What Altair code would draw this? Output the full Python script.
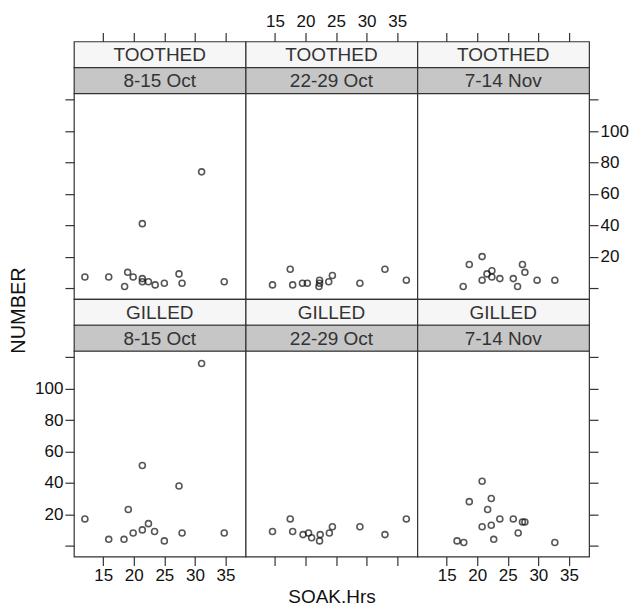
import altair as alt
import pandas as pd

# ---- data ----
gear_types = ["TOOTHED", "GILLED"]
periods = ["8-15 Oct", "22-29 Oct", "7-14 Nov"]

toothed_oct8_soak = [12.0, 15.9, 19.0, 18.5, 19.9, 21.4, 21.4, 21.4, 22.4, 23.5, 25.0, 27.4, 27.9, 31.1, 34.8]
toothed_oct8_num = [7, 7, 10, 1, 7, 41, 6, 4, 4, 2, 3, 9, 3, 74, 4]

gilled_oct8_soak = [12.0, 15.9, 18.4, 19.1, 19.9, 21.4, 21.4, 22.4, 23.4, 25.0, 27.4, 27.9, 31.1, 34.8]
gilled_oct8_num = [17, 4, 4, 23, 8, 10, 51, 14, 9, 3, 38, 8, 116, 8]

toothed_oct22_soak = [14.6, 17.5, 17.9, 19.5, 20.3, 22.3, 22.3, 22.2, 23.8, 24.4, 28.9, 33.0, 36.5]
toothed_oct22_num = [2, 12, 2, 3, 3, 5, 3, 1, 4, 8, 3, 12, 5]

gilled_oct22_soak = [14.6, 17.5, 17.9, 19.6, 20.5, 21.0, 22.4, 22.3, 23.9, 24.4, 28.9, 33.0, 36.5]
gilled_oct22_num = [9, 17, 9, 7, 8, 5, 7, 3, 8, 12, 12, 7, 17]

toothed_nov7_soak = [17.7, 18.7, 20.8, 20.8, 21.6, 22.4, 22.4, 23.7, 25.9, 26.6, 27.4, 27.8, 29.8, 32.7]
toothed_nov7_num = [1, 15, 20, 5, 9, 11, 7, 6, 6, 1, 15, 10, 5, 5]

gilled_nov7_soak = [16.7, 17.8, 18.7, 20.8, 20.8, 21.7, 22.3, 22.3, 22.7, 23.7, 25.9, 26.7, 27.4, 27.8, 32.7]
gilled_nov7_num = [3, 2, 28, 41, 12, 23, 30, 13, 4, 17, 17, 8, 15, 15, 2]

x_ticks = [15, 20, 25, 30, 35]
y_ticks = [0, 20, 40, 60, 80, 100, 120]

panels = {
    (0, 0): (toothed_oct8_soak, toothed_oct8_num),
    (0, 1): (toothed_oct22_soak, toothed_oct22_num),
    (0, 2): (toothed_nov7_soak, toothed_nov7_num),
    (1, 0): (gilled_oct8_soak, gilled_oct8_num),
    (1, 1): (gilled_oct22_soak, gilled_oct22_num),
    (1, 2): (gilled_nov7_soak, gilled_nov7_num),
}

# ---- layout / style ----
W = 172
PH = 206
SH = 26
XDOM = [10.2, 38.3]
YDOM = [-7, 124]
INK = "#333333"
FONT = "Liberation Sans"
LAB = 17

ylabel_expr = "datum.value >= 20 && datum.value <= 100 ? datum.label : ''"


def strip(text, fill):
    df = pd.DataFrame({"t": [text]})
    return (
        alt.Chart(df)
        .mark_text(fontSize=19, font=FONT, fontWeight="normal", color="#333333",
                   baseline="middle", align="center")
        .encode(text="t:N", x=alt.value(W / 2), y=alt.value(SH / 2 + 1))
        .properties(width=W, height=SH,
                    view=alt.ViewBackground(fill=fill, stroke=INK, strokeWidth=1.2))
    )


def panel(row, col):
    soak, num = panels[(row, col)]
    df = pd.DataFrame({"soak": soak, "number": num})
    common = dict(values=x_ticks, tickSize=9, tickColor=INK, tickWidth=1.2,
                  domain=False, grid=False, labelFontSize=LAB, labelFont=FONT,
                  labelColor="#111111", labelPadding=2)
    if row == 0:
        xaxis = alt.Axis(orient="top", offset=2 * SH, labels=(col == 1), title=None, **common)
    else:
        if col == 1:
            xaxis = alt.Axis(orient="bottom", labels=False, title="SOAK.Hrs",
                             titleFontSize=19, titleFont=FONT, titleFontWeight="normal",
                             titleColor="#111111", titlePadding=21, **common)
        else:
            xaxis = alt.Axis(orient="bottom", title=None, **common)

    ycommon = dict(values=y_ticks, tickSize=9, tickColor=INK, tickWidth=1.2,
                   domain=False, grid=False, labelFontSize=LAB, labelFont=FONT,
                   labelColor="#111111", labelPadding=2, labelExpr=ylabel_expr)
    if col == 0:
        if row == 1:
            yaxis = alt.Axis(orient="left", labels=True, title="NUMBER",
                             titleFontSize=20, titleFont=FONT, titleFontWeight="normal",
                             titleColor="#111111", titleAngle=270, titleAlign="center",
                             titleBaseline="middle", titleX=-55, titleY=-41, **ycommon)
        else:
            yaxis = alt.Axis(orient="left", labels=False, title=None, **ycommon)
    elif col == 2:
        yaxis = alt.Axis(orient="right", labels=(row == 0), title=None, **ycommon)
    else:
        yaxis = None

    return (
        alt.Chart(df)
        .mark_point(shape="circle", filled=False, size=36, strokeWidth=1.6, color="#111111")
        .encode(
            x=alt.X("soak:Q", scale=alt.Scale(domain=XDOM, nice=False, zero=False), axis=xaxis),
            y=alt.Y("number:Q", scale=alt.Scale(domain=YDOM, nice=False, zero=False), axis=yaxis),
        )
        .properties(width=W, height=PH,
                    view=alt.ViewBackground(fill="white", stroke=INK, strokeWidth=1.2))
    )


cells = []
for row in range(2):
    cells += [strip(gear_types[row], "#f6f6f6") for _ in range(3)]
    cells += [strip(p, "#c6c6c6") for p in periods]
    cells += [panel(row, c) for c in range(3)]

chart = alt.concat(*cells, columns=3, spacing=0, bounds="flush").properties(
    padding={"left": 0, "top": 3, "right": 0, "bottom": 0}
).configure(font=FONT)

chart.save("out.html", embed_options={"renderer": "svg", "actions": False})
